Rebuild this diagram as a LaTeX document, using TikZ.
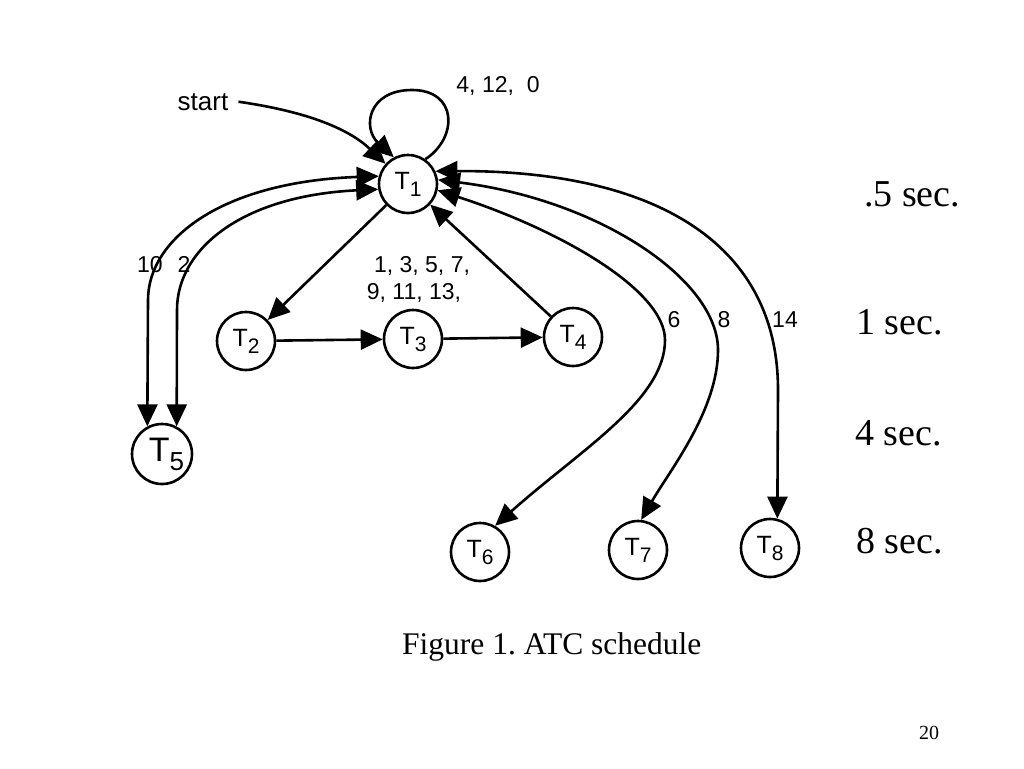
\documentclass[tikz,border=0pt]{standalone}
\usepackage{fontspec}
\setmainfont{Liberation Sans}
\newfontfamily\serifx{Liberation Serif}
\usetikzlibrary{arrows.meta}
\frenchspacing
\newcommand\tlab[3]{{\fontsize{#2}{#2}\selectfont T\raisebox{-#3}{\fontsize{21}{21}\selectfont #1}}}
\tikzset{
  >={Triangle[length=22pt,width=20pt]},
  task/.style={circle,draw,line width=2.6pt,minimum size=58pt,inner sep=0pt,fill=white},
  conn/.style={line width=2.6pt,line join=round},
  lbl/.style={font=\fontsize{23}{23}\selectfont,anchor=base,inner sep=0pt},
  rtxt/.style={font=\serifx\fontsize{38}{38}\selectfont,anchor=base west,inner sep=0pt},
}
\begin{document}
\begin{tikzpicture}[x=1pt,y=-1pt]
\useasboundingbox[fill=white] (0,0) rectangle (1024,768);
% nodes
\node[task] (T1) at (408,184) {\tlab{1}{25}{7pt}};
\node[task] (T2) at (246,341) {\tlab{2}{25}{7pt}};
\node[task] (T3) at (413,339) {\tlab{3}{25}{7pt}};
\node[task] (T4) at (573,337) {\tlab{4}{25}{7pt}};
\node[task,minimum size=60pt] (T5) at (162,454) {\hspace*{9pt}{\fontsize{34}{34}\selectfont T\raisebox{-9pt}{\fontsize{26}{26}\selectfont 5}}};
\node[task] (T6) at (480,552) {\tlab{6}{25}{7pt}};
\node[task] (T7) at (638,550) {\tlab{7}{25}{7pt}};
\node[task] (T8) at (770,548) {\tlab{8}{25}{7pt}};
% start
\node[font=\fontsize{26}{26}\selectfont,anchor=base,inner sep=0pt] (start) at (203,110) {start};
\draw[conn,->] (start.east) ++(10,0) coordinate (s0)
  (s0) .. controls (310,112) and (350,130) .. (T1.138);
% self loop
\draw[conn,->] (T1.55) .. controls (458,138) and (458,90) .. (412,90)
  .. controls (368,90) and (362,128) .. (T1.118);
\node[lbl] (l0) at (498,92) {4, 12,\ \ 0};
% chain
\draw[conn,->] (T1) -- (T2);
\draw[conn,->] (T2) -- (T3);
\draw[conn,->] (T3) -- (T4);
\draw[conn,->] (T4) -- (T1);
\node[lbl] (l1) at (422,272) {1, 3, 5, 7,};
\node[lbl] (l2) at (414,299) {9, 11, 13,};
% T5 curves
\draw[conn,<->] (T1.165) .. controls (220,182) and (148,240) .. (148,300) -- (T5.118);
\draw[conn,<->] (T1.190) .. controls (240,196) and (177,250) .. (177,310) -- (T5.62);
\node[lbl] (l10) at (150,272) {10};
\node[lbl] (l2b) at (184,272) {2};
% right curves
\draw[conn,<->] (T1.-12) .. controls (560,230) and (665,290) .. (665,340)
  .. controls (665,400) and (580,450) .. (T6.60);
\draw[conn,<->] (T1.8) .. controls (600,200) and (718,280) .. (718,350)
  .. controls (718,410) and (670,470) .. (T7.84);
\draw[conn,<->] (T1.25) .. controls (650,170) and (778,240) .. (778,390) -- (T8.76);
\node[lbl] (l6) at (674,327) {6};
\node[lbl] (l8) at (724,327) {8};
\node[lbl] (l14) at (785,327) {14};
% right texts
\node[rtxt] (r1) at (864,206) {.5 sec.};
\node[rtxt] (r2) at (856,334) {1 sec.};
\node[rtxt] (r3) at (855,445) {4 sec.};
\node[rtxt] (r4) at (856,553) {8 sec.};
\node[font=\serifx\fontsize{31.5}{31.5}\selectfont,anchor=base west,inner sep=0pt] (cap) at (402,654) {Figure 1. ATC schedule};
\node[font=\serifx\fontsize{20}{20}\selectfont,anchor=base west,inner sep=0pt] (pg) at (919,739) {20};
\end{tikzpicture}
\end{document}
